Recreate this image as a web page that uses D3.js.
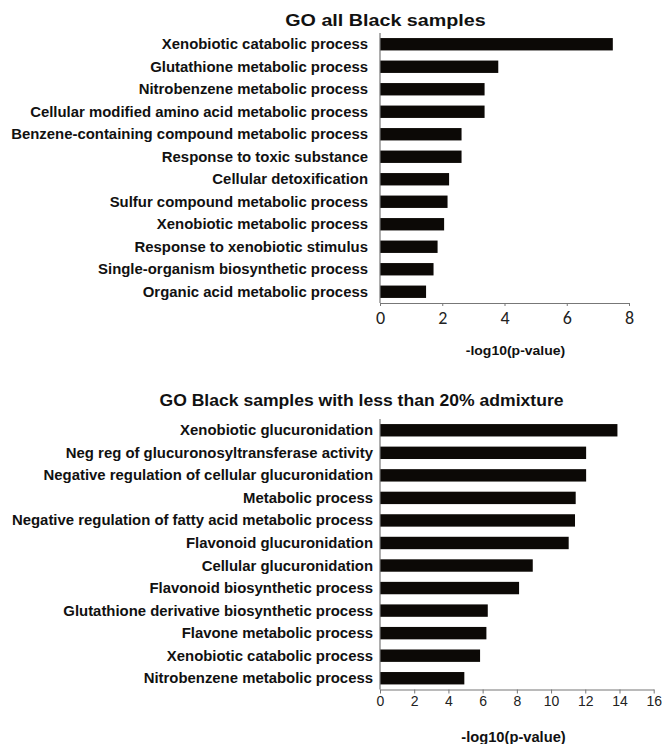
<!DOCTYPE html>
<html>
<head>
<meta charset="utf-8">
<script src="https://cdn.jsdelivr.net/npm/d3@7"></script>
<style>
  html, body { margin: 0; padding: 0; background: #fff; }
  svg { display: block; }
</style>
</head>
<body>
<svg id="chart" width="662" height="744"></svg>
<script>
// GO enrichment terms, all Black samples
const termsAll = [
  "Xenobiotic catabolic process",
  "Glutathione metabolic process",
  "Nitrobenzene metabolic process",
  "Cellular modified amino acid metabolic process",
  "Benzene-containing compound metabolic process",
  "Response to toxic substance",
  "Cellular detoxification",
  "Sulfur compound metabolic process",
  "Xenobiotic metabolic process",
  "Response to xenobiotic stimulus",
  "Single-organism biosynthetic process",
  "Organic acid metabolic process"
];
const valuesAll = [7.48, 3.80, 3.36, 3.36, 2.62, 2.62, 2.22, 2.17, 2.06, 1.85, 1.72, 1.48];
const ticksAll = [0, 2, 4, 6, 8];

// GO enrichment terms, Black samples with less than 20% admixture
const termsLow = [
  "Xenobiotic glucuronidation",
  "Neg reg of glucuronosyltransferase activity",
  "Negative regulation of cellular glucuronidation",
  "Metabolic process",
  "Negative regulation of fatty acid metabolic process",
  "Flavonoid glucuronidation",
  "Cellular glucuronidation",
  "Flavonoid biosynthetic process",
  "Glutathione derivative biosynthetic process",
  "Flavone metabolic process",
  "Xenobiotic catabolic process",
  "Nitrobenzene metabolic process"
];
const valuesLow = [13.88, 12.05, 12.05, 11.44, 11.40, 11.03, 8.93, 8.13, 6.30, 6.22, 5.85, 4.93];
const ticksLow = [0, 2, 4, 6, 8, 10, 12, 14, 16];

const svg = d3.select("#chart");
const labelFont = "'Liberation Sans', Arial, Helvetica, sans-serif";
const narrowFont = "Carlito, 'Liberation Sans Narrow', 'DejaVu Sans Condensed', sans-serif";

// text placed at (x, y), widened horizontally by sx
function wideText(g, x, y, sx, anchor, size, str, weight) {
  return g.append("text")
    .attr("transform", `translate(${x},${y}) scale(${sx},1)`)
    .attr("text-anchor", anchor)
    .style("font-family", labelFont)
    .style("font-weight", weight || "bold")
    .style("font-size", size)
    .attr("fill", "#111")
    .text(str);
}

function panel(cfg) {
  const g = svg.append("g");
  const x = d3.scaleLinear().domain(cfg.domain).range([cfg.x0, cfg.x1]);
  const y = d3.scaleBand().domain(cfg.terms).range([cfg.yTop, cfg.yBottom])
    .paddingInner(0.45).paddingOuter(0.225);

  // title
  wideText(g, cfg.titleX, cfg.titleY, cfg.titleScale, "middle", cfg.titleSize, cfg.title);

  // bars
  g.selectAll("rect.bar").data(cfg.values).enter().append("rect")
    .attr("class", "bar")
    .attr("x", x(0))
    .attr("y", (d, i) => y(cfg.terms[i]))
    .attr("width", d => x(d) - x(0))
    .attr("height", y.bandwidth())
    .attr("fill", "#0c0906");

  // category labels
  cfg.terms.forEach(t => {
    wideText(g, cfg.labelX, y(t) + y.bandwidth() / 2, cfg.labelScale, "end", cfg.labelSize, t)
      .attr("dy", "0.36em");
  });

  // vertical axis line
  g.append("line")
    .attr("x1", x(0)).attr("x2", x(0))
    .attr("y1", cfg.yTop).attr("y2", cfg.yBottom)
    .attr("stroke", "#777").attr("stroke-width", 1.2);

  // value axis
  const ax = g.append("g")
    .attr("transform", `translate(0,${cfg.yBottom})`)
    .call(d3.axisBottom(x).tickValues(cfg.ticks).tickSize(cfg.tickSize).tickSizeOuter(0).tickPadding(cfg.tickPad));
  ax.select(".domain").attr("stroke", "#777").attr("stroke-width", 1.2);
  ax.selectAll(".tick line").attr("stroke", "#777");
  ax.selectAll(".tick text")
    .style("font-family", cfg.tickFont).style("font-size", cfg.tickFontSize)
    .attr("fill", "#222");

  // axis title
  wideText(g, cfg.axisTitleX, cfg.axisTitleY, cfg.axisTitleScale, "middle", cfg.axisTitleSize, "-log10(p-value)");
}

panel({
  title: "GO all Black samples", titleX: 385.5, titleY: 26, titleSize: "17px", titleScale: 1.16,
  terms: termsAll, values: valuesAll, ticks: ticksAll, domain: [0, 8],
  x0: 380, x1: 629, yTop: 33, yBottom: 303,
  labelX: 368, labelSize: "14px", labelScale: 1.065,
  tickFont: narrowFont, tickFontSize: "18px", tickSize: 3, tickPad: 5,
  axisTitleX: 515.5, axisTitleY: 355, axisTitleSize: "13px", axisTitleScale: 1.076
});

panel({
  title: "GO Black samples with less than 20% admixture", titleX: 361.5, titleY: 406, titleSize: "16.5px", titleScale: 1.065,
  terms: termsLow, values: valuesLow, ticks: ticksLow, domain: [0, 16],
  x0: 380, x1: 653.7, yTop: 419, yBottom: 689.5,
  labelX: 373, labelSize: "14px", labelScale: 1.065,
  tickFont: labelFont, tickFontSize: "14px", tickSize: 4, tickPad: 3,
  axisTitleX: 513.5, axisTitleY: 742, axisTitleSize: "14px", axisTitleScale: 1.05
});
</script>
</body>
</html>
